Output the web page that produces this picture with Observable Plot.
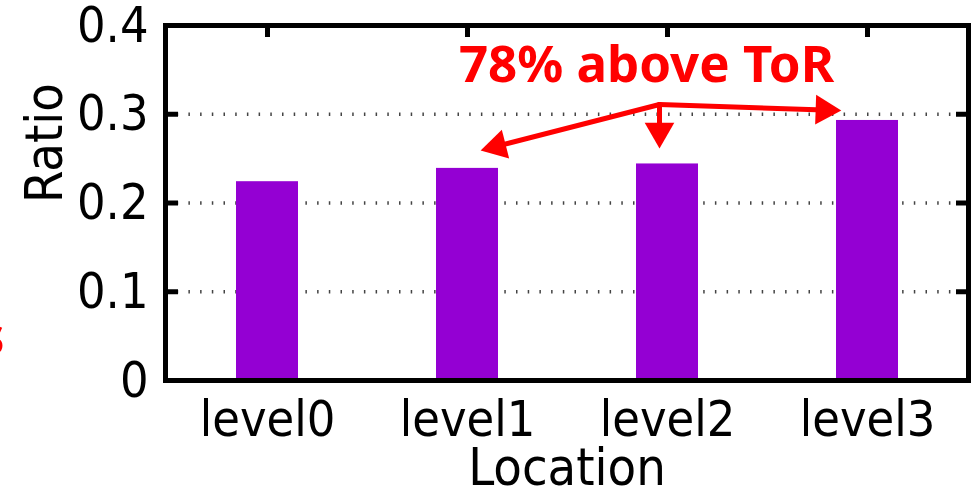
<!DOCTYPE html>
<html>
<head>
<meta charset="utf-8">
<script src="https://cdn.jsdelivr.net/npm/d3@7"></script>
<script src="https://cdn.jsdelivr.net/npm/@observablehq/plot@0.6"></script>
<style>
  html, body { margin: 0; padding: 0; background: #fff; overflow: hidden; }
  #wrap { position: relative; width: 973px; height: 498px; overflow: hidden; }
  #clip { position: absolute; left: -21px; top: 309px; font: bold 51px "Noto Sans", sans-serif; color: #ff0000; line-height: 1; }
</style>
</head>
<body>
<div id="wrap"><div id="chart"></div><div id="clip">s</div></div>
<script>
const categories = ["level0", "level1", "level2", "level3"];
const ratios = [0.224, 0.239, 0.244, 0.293];
const yTicks = [0, 0.1, 0.2, 0.3, 0.4];
const gridTicks = [0.1, 0.2, 0.3];
const xLabel = "Location";
const yLabel = "Ratio";
const annotation = "78% above ToR";
// annotation arrows: from a common origin above level2 to the compared bars
const arrowFrom = ["level2", "level2", "level2"];
const arrowTo = ["level1", "level2", "level3"];
const arrowY1 = [0.311, 0.311, 0.311];
const arrowY2 = [0.2532, 0.2807, 0.3035];
const headY = [0.2639, 0.2807, 0.3049];
const headRotate = [-104.3, 180, 91.9];

const data = categories.map((c, i) => ({location: c, ratio: ratios[i]}));
const arrows = arrowTo.map((t, i) => ({x1: arrowFrom[i], x2: t, y1: arrowY1[i], y2: arrowY2[i], hy: headY[i], rot: headRotate[i]}));

const red = "#ff0000";
const shaft = {x1: "x1", x2: "x2", y1: "y1", y2: "y2", dx: -8, stroke: red, strokeWidth: 5, headLength: 0};
const head = {x: "x2", y: "hy", rotate: "rot", symbol: "triangle", r: 11, fill: red, stroke: "none"};

const chart = Plot.plot({
  width: 973,
  height: 498,
  marginLeft: 165,
  marginRight: 5,
  marginTop: 25,
  marginBottom: 118,
  style: {fontFamily: "'DejaVu Sans Condensed', 'DejaVu Sans', sans-serif", fontStretch: "condensed", background: "#fff", color: "#000", overflow: "visible"},
  x: {domain: categories, paddingInner: 0.69, paddingOuter: 0.345},
  y: {domain: [0, 0.4]},
  marks: [
    Plot.ruleY(gridTicks, {stroke: "#444", strokeWidth: 3.5, strokeDasharray: "1.5,10.2"}),
    Plot.barY(data, {x: "location", y: "ratio", fill: "#9400d3"}),
    // inward tick marks on all mirrored sides
    Plot.axisY(yTicks, {anchor: "right", dx: -803, tickSize: 12, strokeWidth: 5, tickFormat: () => "", label: null}),
    Plot.axisY(yTicks, {anchor: "left", dx: 803, tickSize: 12, strokeWidth: 5, tickFormat: () => "", label: null}),
    Plot.axisX(categories, {anchor: "bottom", dy: -355, tickSize: 12, strokeWidth: 5, tickFormat: () => "", label: null}),
    Plot.frame({stroke: "#000", strokeWidth: 5}),
    Plot.axisY(yTicks, {tickSize: 0, tickPadding: 17, fontSize: 50, label: null, tickFormat: d => d === 0 ? "0" : d3.format(".1f")(d)}),
    Plot.axisX({tickSize: 0, tickPadding: 20, fontSize: 50, label: null}),
    Plot.text([xLabel], {frameAnchor: "bottom", dy: 88, fontSize: 52, lineAnchor: "middle"}),
    Plot.text([yLabel], {frameAnchor: "left", rotate: -90, dx: -120, fontSize: 52}),
    Plot.arrow(arrows.slice(0, 1), {...shaft, insetEnd: 38.7}),
    Plot.arrow(arrows.slice(1, 2), shaft),
    Plot.arrow(arrows.slice(2, 3), {...shaft, insetEnd: 35.4}),
    Plot.dot(arrows.slice(0, 1), {...head, dx: 29.7}),
    Plot.dot(arrows.slice(1, 2), {...head, dx: -8}),
    Plot.dot(arrows.slice(2, 3), {...head, dx: -43.3}),
    Plot.text([annotation], {x: () => "level2", y: () => 0.355, dx: -21, fill: red, fontWeight: "bold", fontSize: 51, fontFamily: "'Noto Sans', sans-serif", fontStretch: "normal"})
  ]
});
document.getElementById("chart").appendChild(chart);
</script>
</body>
</html>
